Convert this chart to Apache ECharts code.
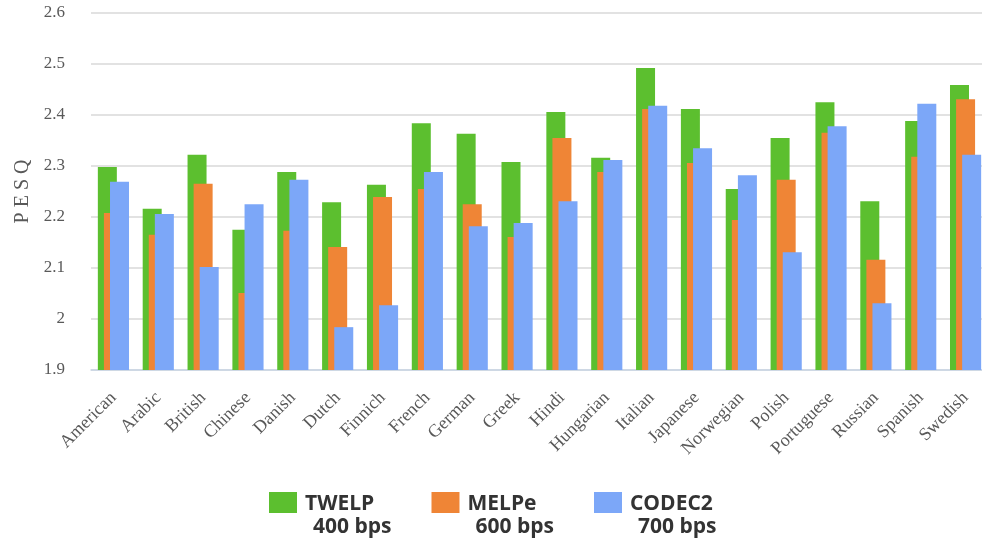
<!DOCTYPE html>
<html>
<head>
<meta charset="utf-8">
<script src="https://cdn.jsdelivr.net/npm/echarts@6/dist/echarts.min.js"></script>
<style>html,body{margin:0;padding:0;background:#fff;}#chart{width:982px;height:543px;}</style>
</head>
<body>
<div id="chart"></div>
<script>
const categories = ['American','Arabic','British','Chinese','Danish','Dutch','Finnich','French','German','Greek','Hindi','Hungarian','Italian','Japanese','Norwegian','Polish','Portuguese','Russian','Spanish','Swedish'];
const twelp  = [2.298,2.216,2.322,2.175,2.288,2.229,2.263,2.384,2.363,2.308,2.406,2.316,2.492,2.412,2.255,2.355,2.425,2.231,2.388,2.459];
const melpe  = [2.208,2.165,2.265,2.051,2.173,2.141,2.239,2.255,2.225,2.161,2.355,2.288,2.412,2.306,2.194,2.273,2.365,2.116,2.318,2.431];
const codec2 = [2.269,2.206,2.102,2.225,2.273,1.984,2.027,2.288,2.182,2.188,2.231,2.312,2.418,2.335,2.282,2.131,2.378,2.031,2.422,2.322];
const seriesNames = ['TWELP','MELPe','CODEC2'];
const rates = ['400 bps','600 bps','700 bps'];
const yTicks = {min:1.9, max:2.6, interval:0.1};

const serif = '"Liberation Serif", "DejaVu Serif", serif';
const chart = echarts.init(document.getElementById('chart'), null, {renderer:'canvas'});
const colors = ['#5cbf2f','#ef8536','#7ca7f8'];
const data = [twelp, melpe, codec2];
const lf = {fontFamily: '"Open Sans", sans-serif', fontWeight: 'bold', color: '#333', fontSize: 21};
chart.setOption({
  animation: false,
  color: colors,
  grid: {left: 91, top: 13, width: 897, height: 357, outerBoundsMode: 'none', containLabel: false},
  legend: {
    top: 464, left: 264,
    itemWidth: 28, itemHeight: 21, itemGap: 40,
    icon: 'rect',
    data: seriesNames,
    formatter: function (name) {
      const i = seriesNames.indexOf(name);
      return '{e| }\n{a|' + name + '}\n{b|' + rates[i] + '}';
    },
    textStyle: {
      rich: {
        e: Object.assign({}, lf, {lineHeight: 27}),
        a: Object.assign({}, lf, {lineHeight: 23, padding: [0,0,0,3]}),
        b: Object.assign({}, lf, {lineHeight: 23, padding: [0,0,0,11]})
      }
    }
  },
  xAxis: {
    type: 'category',
    data: categories,
    axisLine: {lineStyle: {color: '#c8d5e5', width: 1.5}},
    axisTick: {length: 15, lineStyle: {color: '#c8d5e5', width: 1.5}},
    axisLabel: {rotate: 45, margin: 25, fontFamily: serif, fontSize: 18, color: '#595959', interval: 0}
  },
  yAxis: {
    type: 'value',
    min: yTicks.min, max: yTicks.max, interval: yTicks.interval,
    name: 'P E S Q', nameLocation: 'middle', nameGap: 57,
    nameTextStyle: {fontFamily: serif, fontSize: 20, color: '#595959'},
    axisLine: {show: false}, axisTick: {show: false},
    axisLabel: {margin: 26, fontFamily: serif, fontSize: 17, color: '#595959'},
    splitLine: {lineStyle: {color: '#d9d9d9', width: 1.5}}
  },
  series: seriesNames.map((n, i) => ({
    name: n, type: 'bar', data: data[i],
    barWidth: 19, barGap: '-68%',
    itemStyle: {color: colors[i]}
  }))
});
</script>
</body>
</html>
